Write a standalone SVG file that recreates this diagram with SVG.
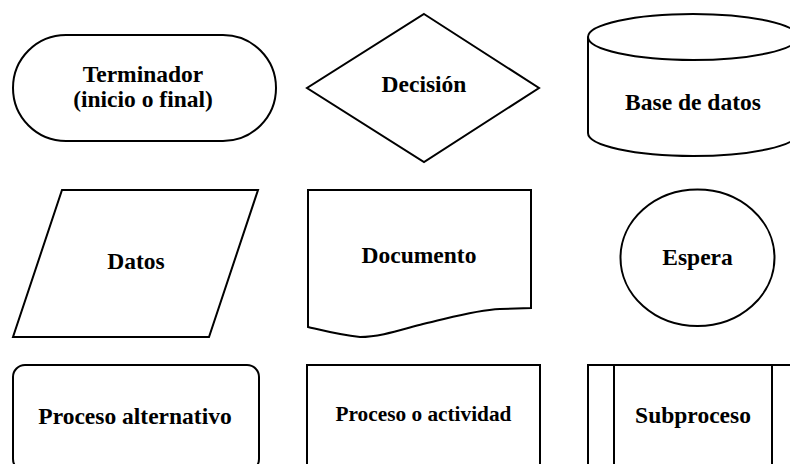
<svg xmlns="http://www.w3.org/2000/svg" width="790" height="464" viewBox="0 0 790 464">
<style>
.s{fill:#fff;stroke:#000;stroke-width:2}
.t{font-family:"Liberation Serif","Times New Roman",serif;font-weight:bold;font-size:23.5px;fill:#000;text-anchor:middle}
</style>
<rect width="790" height="464" fill="#fff"/>
<g id="connectors"></g>
<g id="terminador">
<rect class="s" x="13" y="35" width="263" height="106" rx="53" ry="53"/>
<text class="t" x="143" y="82">Terminador</text>
<text class="t" x="143" y="107">(inicio o final)</text>
</g>
<g id="decision">
<polygon class="s" points="424,14 539,88 424,162 307,88"/>
<text class="t" x="424" y="92">Decisión</text>
</g>
<g id="base-datos">
<path class="s" d="M588,37 V133 A105,23 0 0 0 798,133 V37"/>
<ellipse class="s" cx="693" cy="37" rx="105" ry="23"/>
<text class="t" x="693" y="110">Base de datos</text>
</g>
<g id="datos">
<polygon class="s" points="62,190 258,190 209,337 13,337"/>
<text class="t" x="136" y="269">Datos</text>
</g>
<g id="documento">
<path class="s" d="M308,190 H531 V308 L500,309 C475,310 450,318 423,324 C400,330 380,337 360,337 C340,335 325,331 308,327 Z"/>
<text class="t" x="419" y="263">Documento</text>
</g>
<g id="espera">
<ellipse class="s" cx="697.5" cy="257.7" rx="77" ry="68.3"/>
<text class="t" x="697.5" y="265">Espera</text>
</g>
<g id="proceso-alternativo">
<rect class="s" x="13" y="365" width="246" height="106" rx="12" ry="12"/>
<text class="t" x="135" y="424">Proceso alternativo</text>
</g>
<g id="proceso-actividad">
<rect class="s" x="307" y="365" width="233" height="110"/>
<text class="t" x="423.5" y="421" style="font-size:21.3px">Proceso o actividad</text>
</g>
<g id="subproceso">
<rect class="s" x="588" y="365" width="210" height="110"/>
<line class="s" x1="614" y1="365" x2="614" y2="475"/>
<line class="s" x1="772" y1="365" x2="772" y2="475"/>
<text class="t" x="693" y="423">Subproceso</text>
</g>
</svg>
